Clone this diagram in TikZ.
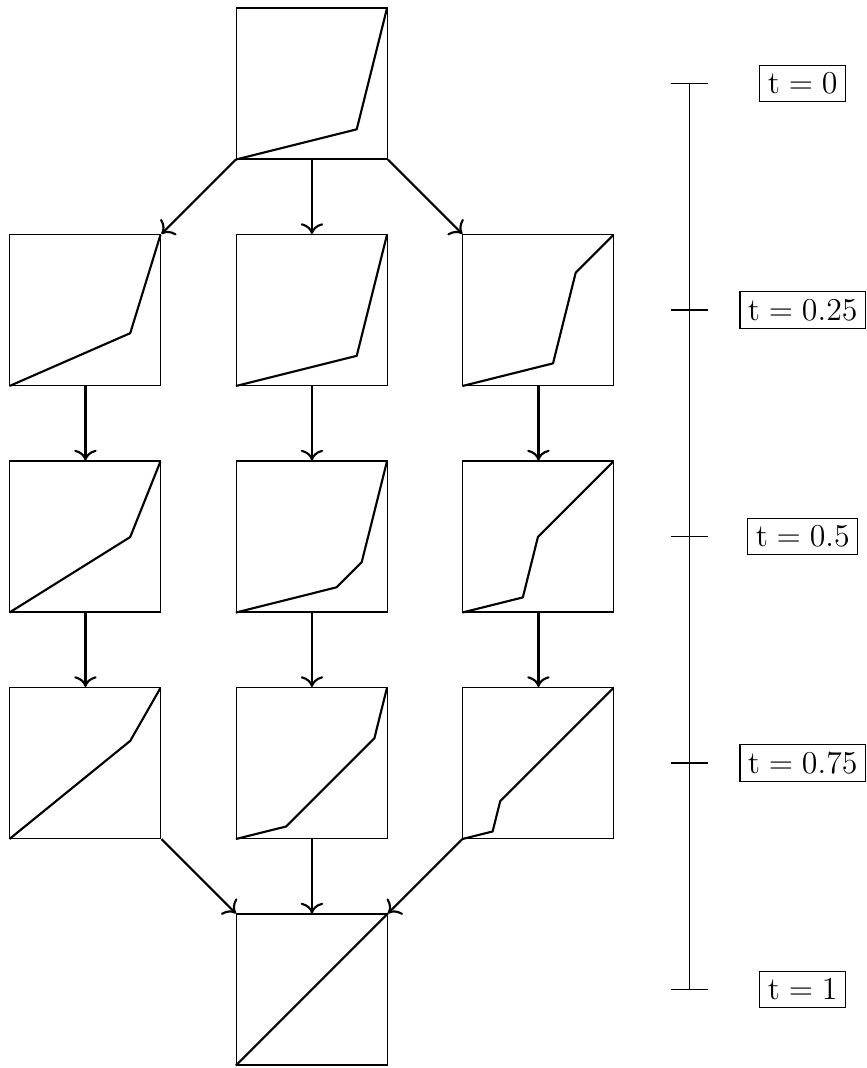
\documentclass[tikz,border=0pt]{standalone}
\usepackage{tikz}
\usetikzlibrary{arrows.meta, calc}

\tikzset{
  warpbox/.style={draw, thin, minimum size=2cm, inner sep=0pt},
  warpline/.style={thick, line join=round},
  flow/.style={thick, -{To[scale=1.2]}},
  tlabel/.style={draw, thin, font=\large, inner sep=3pt}
}
% piecewise linear warp inside a box, points in unit coordinates
\newcommand{\warp}[2]{\draw[warpline, shift={(#1.south west)}, scale=2] (0,0) -- #2 -- (1,1);}

\begin{document}
\begin{tikzpicture}
  \useasboundingbox (-0.132,-0.04) rectangle (11.35,14.106);

  % top
  \node[warpbox] (top) at (4,13) {};

  % t = 0.25
  \node[warpbox] (left1) at (1,10) {};
  \node[warpbox] (mid1) at (4,10) {};
  \node[warpbox] (right1) at (7,10) {};

  % t = 0.5
  \node[warpbox] (left2) at (1,7) {};
  \node[warpbox] (mid2) at (4,7) {};
  \node[warpbox] (right2) at (7,7) {};

  % t = 0.75
  \node[warpbox] (left3) at (1,4) {};
  \node[warpbox] (mid3) at (4,4) {};
  \node[warpbox] (right3) at (7,4) {};

  % bottom
  \node[warpbox] (bot) at (4,1) {};

  % warps
  \warp{top}{(0.8,0.2)}
  \warp{left1}{(0.8,0.35)}
  \warp{mid1}{(0.8,0.2)}
  \warp{right1}{(0.6,0.15) -- (0.75,0.75)}
  \warp{left2}{(0.8,0.5)}
  \warp{mid2}{(0.667,0.167) -- (0.833,0.333)}
  \warp{right2}{(0.4,0.1) -- (0.5,0.5)}
  \warp{left3}{(0.8,0.65)}
  \warp{mid3}{(0.333,0.083) -- (0.917,0.667)}
  \warp{right3}{(0.2,0.05) -- (0.25,0.25)}
  \draw[warpline] (bot.south west) -- (bot.north east);

  % arrows
  \draw[flow] (top.south west) -- (left1.north east);
  \draw[flow] (top.south) -- (mid1.north);
  \draw[flow] (top.south east) -- (right1.north west);
  \foreach \col in {left, mid, right} {
    \draw[flow] (\col1.south) -- (\col2.north);
    \draw[flow] (\col2.south) -- (\col3.north);
  }
  \draw[flow] (left3.south east) -- (bot.north west);
  \draw[flow] (mid3.south) -- (bot.north);
  \draw[flow] (right3.south west) -- (bot.north east);

  % time axis
  \coordinate (tA) at (9,13);
  \coordinate (tE) at (9,1);
  \draw[thin] (tA) -- (tE);
  \foreach \y/\t in {13/0, 10/0.25, 7/0.5, 4/0.75, 1/1} {
    \draw[thin] (8.75,\y) -- (9.25,\y);
    \node[tlabel] (lab\y) at (10.5,\y) {$\mathrm{t} = \t$};
  }
\end{tikzpicture}
\end{document}
